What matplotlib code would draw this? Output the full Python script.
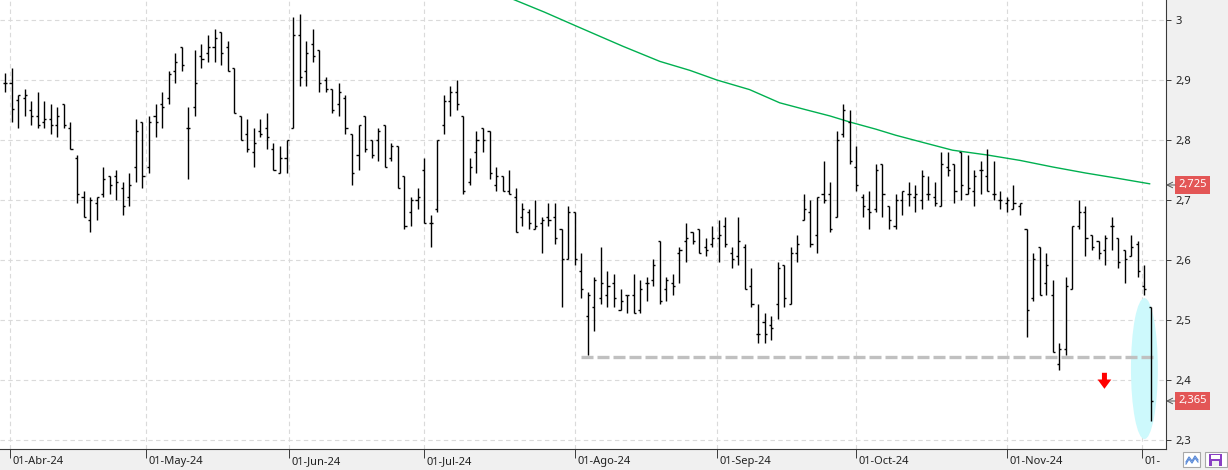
import numpy as np
import pandas as pd
import matplotlib
matplotlib.use('Agg')
import matplotlib.pyplot as plt
from matplotlib.collections import LineCollection
from matplotlib.patches import Ellipse, FancyArrow, Rectangle
from matplotlib.transforms import Bbox, TransformedBbox, blended_transform_factory, ScaledTranslation
from matplotlib.ticker import FuncFormatter

plt.rcParams['font.family'] = ['Noto Sans', 'DejaVu Sans']

# trading sessions (Spanish market calendar)
first_session = '2024-03-28'
last_session = '2024-12-03'
market_holidays = ['2024-03-29', '2024-04-01', '2024-05-01']
month_names = ['Abr', 'May', 'Jun', 'Jul', 'Ago', 'Sep', 'Oct', 'Nov', 'Dic']

opens = [2.895, 2.895, 2.866, 2.870, 2.850, 2.840, 2.830, 2.835, 2.825, 2.860,
         2.820, 2.770, 2.705, 2.667, 2.695, 2.710, 2.740, 2.740, 2.720, 2.705,
         2.755, 2.830, 2.755, 2.840, 2.860, 2.870, 2.915, 2.955, 2.820, 2.855,
         2.940, 2.945, 2.955, 2.980, 2.955, 2.920, 2.840, 2.810, 2.780, 2.815,
         2.820, 2.785, 2.745, 2.770, 2.820, 2.975, 2.915, 2.960, 2.950, 2.900,
         2.885, 2.860, 2.870, 2.810, 2.775, 2.840, 2.800, 2.800, 2.825, 2.770,
         2.790, 2.740, 2.680, 2.700, 2.750, 2.662, 2.685, 2.825, 2.865, 2.880,
         2.840, 2.730, 2.780, 2.820, 2.815, 2.725, 2.740, 2.715, 2.705, 2.672,
         2.680, 2.651, 2.662, 2.672, 2.672, 2.651, 2.602, 2.680, 2.582, 2.507,
         2.522, 2.537, 2.542, 2.562, 2.517, 2.542, 2.542, 2.517, 2.562, 2.567,
         2.632, 2.552, 2.562, 2.612, 2.632, 2.647, 2.652, 2.622, 2.627, 2.637,
         2.657, 2.612, 2.607, 2.622, 2.557, 2.477, 2.497, 2.492, 2.527, 2.592,
         2.527, 2.612, 2.667, 2.680, 2.642, 2.710, 2.710, 2.672, 2.810, 2.830,
         2.755, 2.705, 2.685, 2.685, 2.760, 2.690, 2.657, 2.700, 2.710, 2.705,
         2.700, 2.710, 2.705, 2.690, 2.755, 2.760, 2.780, 2.710, 2.715, 2.750,
         2.740, 2.710, 2.700, 2.695, 2.685, 2.690, 2.652, 2.537, 2.622, 2.562,
         2.542, 2.426, 2.451, 2.552, 2.657, 2.680, 2.642, 2.632, 2.617, 2.657,
         2.637, 2.617, 2.607, 2.627, 2.557, 2.522]
highs = [2.911, 2.920, 2.875, 2.885, 2.865, 2.880, 2.865, 2.860, 2.855, 2.860,
         2.830, 2.775, 2.715, 2.705, 2.705, 2.755, 2.740, 2.750, 2.730, 2.745,
         2.835, 2.830, 2.840, 2.860, 2.880, 2.915, 2.945, 2.955, 2.855, 2.950,
         2.960, 2.975, 2.985, 2.980, 2.965, 2.920, 2.840, 2.835, 2.820, 2.835,
         2.845, 2.795, 2.790, 2.800, 3.005, 3.010, 2.965, 2.985, 2.950, 2.905,
         2.885, 2.895, 2.875, 2.810, 2.825, 2.840, 2.800, 2.820, 2.825, 2.795,
         2.790, 2.740, 2.705, 2.720, 2.770, 2.675, 2.800, 2.875, 2.890, 2.900,
         2.840, 2.770, 2.815, 2.820, 2.815, 2.755, 2.740, 2.750, 2.720, 2.695,
         2.685, 2.700, 2.672, 2.695, 2.695, 2.651, 2.690, 2.680, 2.612, 2.547,
         2.572, 2.622, 2.582, 2.577, 2.552, 2.542, 2.577, 2.567, 2.572, 2.602,
         2.632, 2.572, 2.577, 2.622, 2.662, 2.647, 2.652, 2.637, 2.657, 2.667,
         2.672, 2.622, 2.672, 2.627, 2.587, 2.527, 2.512, 2.507, 2.597, 2.592,
         2.622, 2.642, 2.710, 2.700, 2.705, 2.765, 2.730, 2.815, 2.860, 2.850,
         2.790, 2.710, 2.715, 2.760, 2.760, 2.690, 2.710, 2.715, 2.730, 2.725,
         2.750, 2.740, 2.730, 2.780, 2.780, 2.760, 2.780, 2.775, 2.750, 2.765,
         2.785, 2.765, 2.715, 2.705, 2.725, 2.695, 2.652, 2.612, 2.622, 2.612,
         2.567, 2.461, 2.572, 2.657, 2.700, 2.690, 2.642, 2.632, 2.642, 2.672,
         2.637, 2.617, 2.642, 2.632, 2.592, 2.522]
lows = [2.880, 2.830, 2.820, 2.840, 2.825, 2.820, 2.820, 2.810, 2.805, 2.820,
        2.785, 2.695, 2.671, 2.646, 2.666, 2.705, 2.710, 2.700, 2.675, 2.690,
        2.730, 2.720, 2.745, 2.805, 2.820, 2.860, 2.895, 2.915, 2.735, 2.840,
        2.920, 2.930, 2.930, 2.925, 2.915, 2.845, 2.800, 2.780, 2.755, 2.805,
        2.785, 2.750, 2.745, 2.745, 2.820, 2.890, 2.890, 2.930, 2.880, 2.880,
        2.845, 2.840, 2.810, 2.725, 2.750, 2.780, 2.770, 2.765, 2.755, 2.765,
        2.720, 2.651, 2.656, 2.685, 2.662, 2.621, 2.680, 2.810, 2.840, 2.850,
        2.710, 2.725, 2.745, 2.780, 2.735, 2.715, 2.715, 2.710, 2.646, 2.656,
        2.651, 2.651, 2.611, 2.656, 2.626, 2.521, 2.602, 2.591, 2.536, 2.441,
        2.481, 2.526, 2.521, 2.521, 2.516, 2.511, 2.511, 2.511, 2.531, 2.557,
        2.526, 2.531, 2.541, 2.562, 2.596, 2.626, 2.611, 2.606, 2.621, 2.596,
        2.621, 2.586, 2.591, 2.551, 2.521, 2.461, 2.461, 2.466, 2.501, 2.521,
        2.526, 2.596, 2.667, 2.621, 2.611, 2.695, 2.646, 2.672, 2.805, 2.760,
        2.715, 2.671, 2.651, 2.680, 2.671, 2.651, 2.651, 2.675, 2.690, 2.680,
        2.685, 2.700, 2.690, 2.690, 2.740, 2.695, 2.700, 2.710, 2.690, 2.710,
        2.715, 2.700, 2.685, 2.680, 2.685, 2.675, 2.471, 2.531, 2.541, 2.541,
        2.446, 2.416, 2.441, 2.551, 2.651, 2.606, 2.616, 2.601, 2.591, 2.616,
        2.586, 2.561, 2.606, 2.571, 2.541, 2.331]
closes = [2.895, 2.851, 2.875, 2.875, 2.840, 2.825, 2.835, 2.825, 2.840, 2.825,
          2.785, 2.710, 2.671, 2.700, 2.705, 2.735, 2.725, 2.730, 2.690, 2.725,
          2.815, 2.740, 2.830, 2.830, 2.855, 2.910, 2.930, 2.925, 2.820, 2.895,
          2.935, 2.955, 2.970, 2.945, 2.915, 2.845, 2.800, 2.785, 2.795, 2.810,
          2.805, 2.750, 2.770, 2.800, 2.975, 2.905, 2.945, 2.940, 2.895, 2.885,
          2.850, 2.880, 2.820, 2.745, 2.825, 2.785, 2.775, 2.815, 2.755, 2.790,
          2.720, 2.656, 2.700, 2.705, 2.662, 2.662, 2.800, 2.865, 2.880, 2.860,
          2.715, 2.755, 2.800, 2.800, 2.745, 2.740, 2.715, 2.710, 2.646, 2.685,
          2.662, 2.657, 2.667, 2.667, 2.637, 2.602, 2.680, 2.602, 2.552, 2.542,
          2.567, 2.562, 2.557, 2.537, 2.532, 2.542, 2.511, 2.552, 2.562, 2.592,
          2.532, 2.567, 2.557, 2.617, 2.637, 2.632, 2.611, 2.617, 2.637, 2.642,
          2.627, 2.602, 2.632, 2.552, 2.526, 2.477, 2.477, 2.487, 2.587, 2.537,
          2.612, 2.627, 2.685, 2.627, 2.705, 2.700, 2.652, 2.800, 2.850, 2.765,
          2.725, 2.690, 2.680, 2.750, 2.710, 2.667, 2.700, 2.715, 2.710, 2.710,
          2.740, 2.710, 2.695, 2.760, 2.750, 2.715, 2.725, 2.720, 2.740, 2.750,
          2.715, 2.710, 2.700, 2.700, 2.695, 2.695, 2.517, 2.602, 2.542, 2.592,
          2.446, 2.451, 2.557, 2.657, 2.680, 2.637, 2.622, 2.612, 2.637, 2.657,
          2.596, 2.602, 2.622, 2.582, 2.552, 2.365]

# long moving average, read at a few bar positions
ma_pos = [77.7, 82.4, 87.0, 90.8, 94.4, 100.0, 104.6, 108.7, 113.7, 118.3, 122.1,
          126.0, 129.0, 133.0, 136.0, 140.5, 144.7, 150.0, 155.0, 160.0, 165.0,
          170.0, 174.8]
ma_val = [3.034, 3.013, 2.991, 2.973, 2.956, 2.931, 2.916, 2.900, 2.884, 2.862, 2.851,
          2.840, 2.830, 2.818, 2.808, 2.795, 2.783, 2.775, 2.766, 2.755, 2.745,
          2.736, 2.727]
ma_last = 2.725

support_level = 2.4375
support_start = 87.9
highlight_center = (174.0, 2.419)
highlight_size = (4.1, 0.235)
arrow_x = 167.9
arrow_top = 2.412

sessions = pd.bdate_range(first_session, last_session)
sessions = sessions[~sessions.isin(pd.to_datetime(market_holidays))]
bar_x = np.arange(len(sessions))
day_num = np.asarray((sessions - sessions[0]).days, dtype=float)
month_starts = pd.date_range('2024-04-01', '2024-12-01', freq='MS')
tick_x = np.interp(np.asarray((month_starts - sessions[0]).days, dtype=float), day_num, bar_x)
tick_labels = ['01-%s-24' % m for m in month_names]

W, H = 1228, 470
fig = plt.figure(figsize=(W / 100, H / 100), dpi=100, facecolor='#f0f0f0')
ax = fig.add_axes([0, 21 / H, 1166 / W, 449 / H], facecolor='white')
ax.set_xlim(-0.76, 177.3)
ax.set_ylim(2.285, 3.0333)

# grid
ax.set_yticks(np.arange(2.3, 3.001, 0.1))
ax.set_xticks(tick_x)
ax.grid(True, color='#dadada', linestyle=(0, (4, 3)), linewidth=0.8, zorder=0)
ax.set_axisbelow(True)

# highlight ellipse
ax.add_patch(Ellipse(highlight_center, highlight_size[0], highlight_size[1],
                     facecolor='#cdf9fc', edgecolor='none', zorder=1))

# support line
ax.plot([support_start, bar_x[-1] + 0.4], [support_level, support_level], color='#c0c0c0',
        lw=2.4, linestyle=(0, (3.6, 1.2)), solid_capstyle='butt', dash_capstyle='butt', zorder=2)

# moving average
ax.plot(ma_pos, ma_val, color='#00b050', lw=1.0, zorder=2)

# OHLC bars
segs = []
for i, (o, h, l, c) in enumerate(zip(opens, highs, lows, closes)):
    segs.append([(i, l), (i, h)])
    segs.append([(i - 0.32, o), (i, o)])
    segs.append([(i, c), (i + 0.32, c)])
ax.add_collection(LineCollection(segs, colors='black', linewidths=1.0, zorder=3))

# red arrow
ax.add_patch(FancyArrow(arrow_x, arrow_top, 0, -0.0267, width=0.76, head_width=2.1,
                        head_length=0.0155, length_includes_head=True,
                        facecolor='#ff0000', edgecolor='none', zorder=4))

# axes styling
for s in ['top', 'left']:
    ax.spines[s].set_visible(False)
for s in ['right', 'bottom']:
    ax.spines[s].set_color('#3a3a3a')
    ax.spines[s].set_linewidth(0.8)
ax.yaxis.tick_right()
ax.yaxis.set_major_formatter(FuncFormatter(lambda v, p: ('%.1f' % v).replace('.', ',').replace(',0', '')))
ax.tick_params(axis='y', direction='out', length=3.6, width=0.7, colors='#3a3a3a',
               labelcolor='#222222', labelsize=8, pad=3.5)
ax.tick_params(axis='x', direction='out', length=6.5, width=0.7, colors='#3a3a3a',
               labelbottom=False)

clip = TransformedBbox(Bbox([[0, -1], [0.9955, 1]]), ax.transAxes)
trans_x = blended_transform_factory(ax.transData, ax.transAxes) + \
    ScaledTranslation(2.5 / 100, -12.5 / 100, fig.dpi_scale_trans)
for x, lab in zip(tick_x, tick_labels):
    t = ax.text(x, 0, lab, transform=trans_x, ha='left', va='center', fontsize=8,
                color='#222222', clip_on=True)
    t.set_clip_box(clip)

# price labels on the right axis
trans_y = blended_transform_factory(ax.transAxes, ax.transData)
for val in [ma_last, closes[-1]]:
    ax.annotate(('%.3f' % val).replace('.', ','), xy=(1, val), xycoords=trans_y,
                xytext=(12, 0), textcoords='offset pixels', ha='left', va='center',
                fontsize=8, color='white', annotation_clip=False,
                bbox=dict(boxstyle='square,pad=0.3', facecolor='#e35656', edgecolor='none'))
    ax.annotate('', xy=(1, val), xycoords=trans_y, xytext=(9, 0), textcoords='offset pixels',
                annotation_clip=False,
                arrowprops=dict(arrowstyle='->', color='#555555', lw=0.7, shrinkA=0, shrinkB=0))

# small toolbar buttons
def px_rect(x0, y0, x1, y1, **kw):
    fig.add_artist(Rectangle((x0 / W, 1 - y1 / H), (x1 - x0) / W, (y1 - y0) / H,
                             transform=fig.transFigure, **kw))

px_rect(1183, 452, 1200, 467, facecolor='white', edgecolor='#a8a8a8', lw=0.8)
zig_x = np.array([1186, 1189, 1192, 1195, 1198]) / W
fig.add_artist(plt.Line2D(zig_x, 1 - np.array([462, 457, 461, 456, 460]) / H,
                          transform=fig.transFigure, color='#5b8bd8', lw=0.9))
fig.add_artist(plt.Line2D(zig_x, 1 - np.array([464, 459, 463, 458, 462]) / H,
                          transform=fig.transFigure, color='#5b8bd8', lw=0.9))
px_rect(1205, 452, 1227, 467, facecolor='white', edgecolor='#a8a8a8', lw=0.8)
px_rect(1209, 454, 1222, 466, facecolor='#8a3fc4', edgecolor='none')
px_rect(1211, 455, 1220, 459, facecolor='white', edgecolor='none')
px_rect(1212, 461, 1219, 466, facecolor='#f0f0f0', edgecolor='none')

fig.savefig('out.png', dpi=100, facecolor=fig.get_facecolor())
